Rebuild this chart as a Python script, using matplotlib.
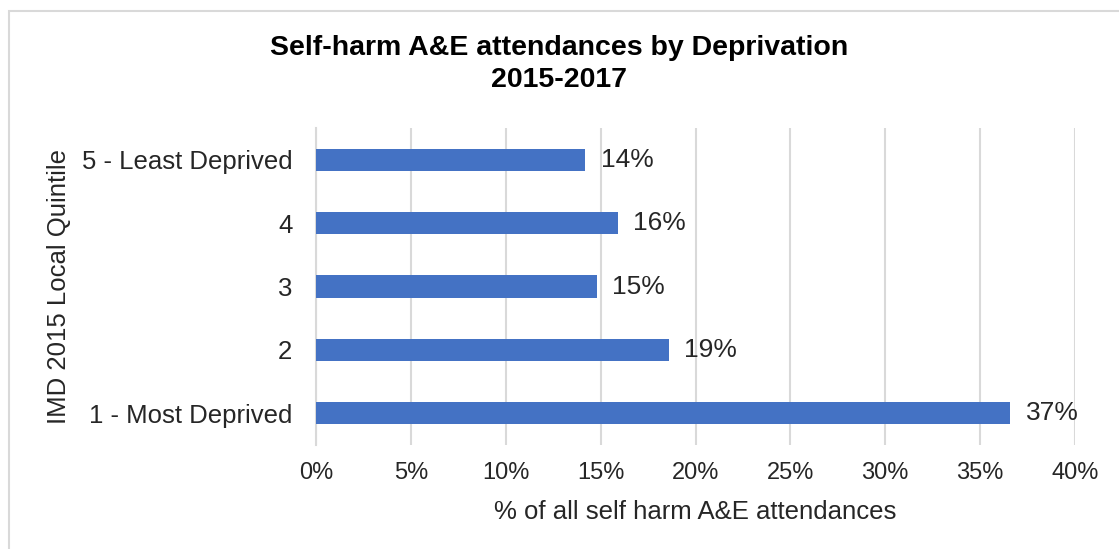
import matplotlib.pyplot as plt
from matplotlib.patches import Rectangle
from matplotlib.ticker import FuncFormatter

plt.rcParams["font.family"] = ["Liberation Sans", "DejaVu Sans"]

# data, bottom bar first
quintiles = ["1 - Most Deprived", "2", "3", "4", "5 - Least Deprived"]
pct_values = [36.6, 18.6, 14.8, 15.9, 14.2]
pct_labels = ["37%", "19%", "15%", "16%", "14%"]
x_ticks = [0, 5, 10, 15, 20, 25, 30, 35, 40]

W, H = 1119, 549
fig = plt.figure(figsize=(W / 100, H / 100), dpi=100)

# light grey frame of the chart area, cut off at right/bottom
fig.patches.append(Rectangle((9 / W, -0.1), 1.2, 1 - 11 / H + 0.1,
                             transform=fig.transFigure, fill=False,
                             edgecolor="#d9d9d9", linewidth=1.5))

ax = fig.add_axes([316 / W, 1 - 445 / H, (1075 - 316) / W, (445 - 128) / H])

ypos = list(range(len(quintiles)))
ax.barh(ypos, pct_values, height=0.35, color="#4472c4", zorder=3)
for y, v, lab in zip(ypos, pct_values, pct_labels):
    ax.annotate(lab, (v, y), xytext=(11, 0), textcoords="offset points",
                va="center", ha="left", fontsize=19, color="#262626")

ax.set_xlim(0, 40)
ax.set_ylim(-0.5, len(quintiles) - 0.5)
ax.set_xticks(x_ticks)
ax.xaxis.set_major_formatter(FuncFormatter(lambda v, p: f"{v:.0f}%"))
ax.set_yticks(ypos)
ax.set_yticklabels(quintiles)
ax.tick_params(axis="both", length=0, colors="#262626")
ax.tick_params(axis="x", pad=12, labelsize=17)
ax.tick_params(axis="y", pad=17, labelsize=18.5)
ax.grid(axis="x", color="#d9d9d9", linewidth=1.5, zorder=0)
for side in ["top", "right", "bottom"]:
    ax.spines[side].set_visible(False)
ax.spines["left"].set_color("#d9d9d9")
ax.spines["left"].set_linewidth(1.5)

ax.set_xlabel("% of all self harm A&E attendances", fontsize=18.5,
              color="#262626", labelpad=12)
ax.set_ylabel("IMD 2015 Local Quintile", fontsize=18.5, color="#262626",
              labelpad=8)

fig.text(0.5, 1 - 64 / H, "Self-harm A&E attendances by Deprivation\n2015-2017",
         ha="center", va="center", fontsize=20.5, fontweight="bold",
         linespacing=1.3)

fig.savefig("out.png", dpi=100)
